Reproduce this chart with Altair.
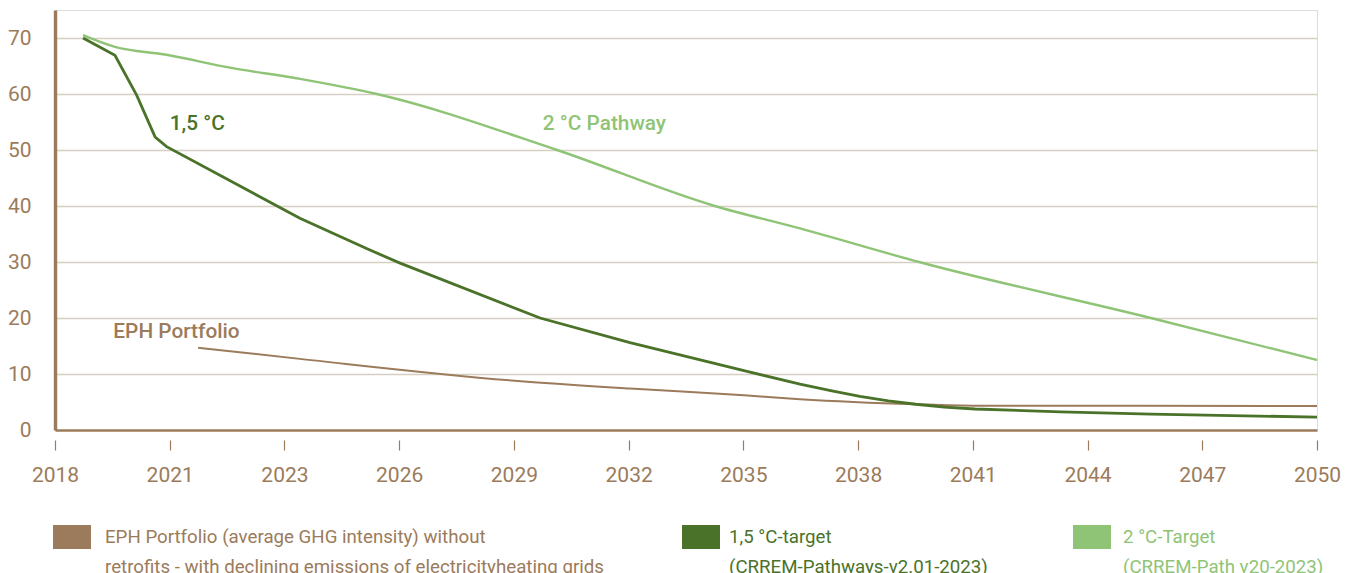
import altair as alt
import pandas as pd

BROWN = "#9B7B5B"
DARK = "#4A7229"
LIGHT = "#8FC476"
GRID = "#D8CFC4"
FONT = "Roboto"

# axis labels
x_tick_labels = ["2018", "2021", "2023", "2026", "2029", "2032",
                 "2035", "2038", "2041", "2044", "2047", "2050"]
y_ticks = [0, 10, 20, 30, 40, 50, 60, 70]

# 1,5 °C target pathway
p15_years = [2018.71, 2019.52, 2020.07, 2020.54, 2020.83, 2024.21,
             2025.90, 2026.75, 2030.30, 2032.58, 2035.47, 2036.89, 2037.70,
             2038.41, 2039.13, 2039.83, 2040.55, 2041.33, 2043.50, 2045.79, 2050.0]
p15_vals = [70.0, 66.9, 59.8, 52.3, 50.6, 37.8,
            32.4, 29.8, 20.0, 15.6, 10.6, 8.2, 7.0,
            6.0, 5.2, 4.6, 4.1, 3.75, 3.25, 2.85, 2.3]

# 2 °C target pathway
p2_years = [2018.71, 2019.52, 2020.83, 2022.44, 2024.21, 2026.16, 2030.73,
            2034.73, 2036.89, 2039.91, 2045.79, 2050.0]
p2_vals = [70.5, 68.4, 67.0, 64.7, 62.7, 60.0, 50.0,
           40.0, 36.0, 30.0, 20.0, 12.5]

# EPH portfolio
eph_years = [2021.63, 2024.21, 2029.66, 2032.58, 2035.47, 2036.89,
             2039.83, 2041.33, 2050.0]
eph_vals = [14.7, 12.7, 8.8, 7.4, 6.2, 5.5, 4.6, 4.35, 4.3]

legend_eph = "EPH Portfolio (average GHG intensity) without|retrofits - with declining emissions of electricityheating grids"
legend_p15 = "1,5 °C-target|(CRREM-Pathways-v2.01-2023)"
legend_p2 = "2 °C-Target|(CRREM-Path v20-2023)"

# in-chart annotations
ann_text = ["1,5 °C", "2 °C Pathway", "EPH Portfolio"]
ann_x = [2020.91, 2030.37, 2019.48]
ann_y = [54.7, 54.6, 17.55]

tick_vals = [2018 + k * 32 / 11 for k in range(len(x_tick_labels))]
label_expr = "[" + ",".join("'%s'" % t for t in x_tick_labels) + "][round((datum.value-2018)*11/32)]"

x_enc = alt.X("year:Q",
              scale=alt.Scale(domain=[2018, 2050], nice=False, zero=False),
              axis=alt.Axis(values=tick_vals, labelExpr=label_expr, title=None,
                            domain=False, grid=False, offset=10,
                            ticks=True, tickSize=10, tickColor=BROWN, tickWidth=1.2,
                            labelPadding=14, labelColor=BROWN, labelFont=FONT,
                            labelFontSize=21, labelFlush=False, labelOverlap=False,
                            labelBound=False))
y_enc = alt.Y("value:Q",
              scale=alt.Scale(domain=[0, 75], nice=False),
              axis=alt.Axis(values=y_ticks, title=None,
                            domain=True, domainColor=BROWN, domainWidth=3.4,
                            ticks=False, tickSize=0,
                            labelPadding=24, labelColor=BROWN, labelFont=FONT,
                            labelFontSize=21, labelFlush=False,
                            grid=True,
                            gridColor={"condition": {"test": "datum.value === 0", "value": BROWN},
                                       "value": GRID},
                            gridWidth={"condition": {"test": "datum.value === 0", "value": 2.5},
                                       "value": 1.3}))

SQUARE = "M-1,-0.63H1V0.63H-1Z"


def line_layer(years, vals, label, color, width, lx, ly, loff, interp):
    df = pd.DataFrame({"year": years, "value": vals, "series": label})
    return alt.Chart(df).mark_line(strokeWidth=width, interpolate=interp).encode(
        x=x_enc, y=y_enc,
        color=alt.Color("series:N", scale=alt.Scale(domain=[label], range=[color]),
                        legend=alt.Legend(orient="none", legendX=lx, legendY=ly, title=None,
                                          padding=0, symbolType=SQUARE, symbolSize=1444,
                                          symbolFillColor=color, symbolStrokeColor=color,
                                          symbolStrokeWidth=0, symbolOpacity=1,
                                          labelExpr="split(datum.label, '|')",
                                          labelColor=color, labelFont=FONT, labelFontSize=18.7,
                                          labelLimit=800, labelOffset=loff,
                                          labelBaseline="middle")),
    )


eph = line_layer(eph_years, eph_vals, legend_eph, BROWN, 2.0, -2, 508, 14, "monotone")
p15 = line_layer(p15_years, p15_vals, legend_p15, DARK, 2.8, 627, 508, 9, "linear")
p2 = line_layer(p2_years, p2_vals, legend_p2, LIGHT, 2.4, 1018, 508, 12, "monotone")

ann_df = pd.DataFrame({"year": ann_x, "value": ann_y, "text": ann_text})
ann_colors = [DARK, LIGHT, BROWN]
ann_layers = []
for i, c in enumerate(ann_colors):
    ann_layers.append(
        alt.Chart(ann_df.iloc[[i]]).mark_text(
            align="left", baseline="middle", font=FONT, fontSize=20.8,
            fontWeight=500, color=c
        ).encode(x=x_enc, y=y_enc, text="text:N")
    )

chart = alt.layer(eph, p2, p15, *ann_layers).resolve_scale(color="independent").properties(
    width=1262, height=420,
    autosize=alt.AutoSizeParams(type="none"),
    padding={"left": 55, "top": 10, "right": 34, "bottom": 143},
    background="white",
).configure_view(stroke=None).configure(
    style={"guide-label": {"lineHeight": 30}}
)

chart.save("out.html", embed_options={"renderer": "svg", "actions": False})
